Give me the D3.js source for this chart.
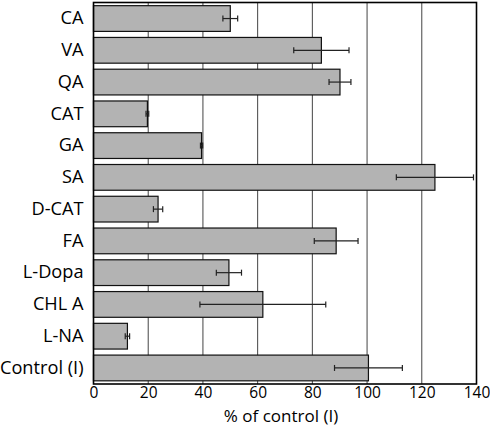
<!DOCTYPE html>
<html><head><meta charset="utf-8">
<script src="https://cdn.jsdelivr.net/npm/d3@7"></script>
<style>body{margin:0;background:#fff}svg{display:block}text{font-family:"Open Sans","Noto Sans",sans-serif;fill:#000}</style>
</head><body><svg id="c" width="490" height="426"></svg>
<script>
const categories = ["CA","VA","QA","CAT","GA","SA","D-CAT","FA","L-Dopa","CHL A","L-NA","Control (I)"];
const values = [50, 83.3, 90.1, 19.7, 39.5, 124.8, 23.6, 88.7, 49.5, 61.9, 12.4, 100.5];
const errors = [2.7, 10.1, 4.0, 0.5, 0.4, 14.1, 1.7, 8.0, 4.6, 23.0, 0.8, 12.4];
const xTicks = [0, 20, 40, 60, 80, 100, 120, 140];
const xTitle = "% of control (I)";

const svg = d3.select("#c");
const L = 93.5, R = 476.5, T = 2.5, B = 384;
const x = d3.scaleLinear().domain([0, 140]).range([L, R]);
const y = d3.scaleBand().domain(categories).range([T, B]).paddingInner(0.19).paddingOuter(0.1);

// gridlines
svg.append("g").selectAll("line").data(xTicks.slice(1, -1)).join("line")
  .attr("x1", d => x(d)).attr("x2", d => x(d)).attr("y1", T).attr("y2", B)
  .attr("stroke", "#444").attr("stroke-width", 1);

// bars
svg.append("g").selectAll("rect").data(categories).join("rect")
  .attr("x", x(0)).attr("y", d => y(d))
  .attr("width", (d, i) => x(values[i]) - x(0)).attr("height", y.bandwidth())
  .attr("fill", "#b3b3b3").attr("stroke", "#111").attr("stroke-width", 1.2);

// error bars
const eg = svg.append("g").attr("stroke", "#222").attr("stroke-width", 1.2);
categories.forEach((c, i) => {
  const cy = y(c) + y.bandwidth() / 2;
  const x1 = x(values[i] - errors[i]), x2 = x(values[i] + errors[i]);
  eg.append("line").attr("x1", x1).attr("x2", x2).attr("y1", cy).attr("y2", cy);
  eg.append("line").attr("x1", x1).attr("x2", x1).attr("y1", cy - 3).attr("y2", cy + 3);
  eg.append("line").attr("x1", x2).attr("x2", x2).attr("y1", cy - 3).attr("y2", cy + 3);
});

// frame
svg.append("rect").attr("x", L).attr("y", T).attr("width", R - L).attr("height", B - T)
  .attr("fill", "none").attr("stroke", "#000").attr("stroke-width", 1.6);

// x axis labels
const xa = svg.append("g").attr("transform", `translate(0,${B})`)
  .call(d3.axisBottom(x).tickValues(xTicks).tickSize(0).tickPadding(3).tickFormat(d3.format("d")));
xa.select(".domain").remove();
xa.selectAll("text").style("font-size", "15.5px").attr("fill", "#000");

// y axis labels
const ya = svg.append("g").attr("transform", `translate(${L},0)`)
  .call(d3.axisLeft(y).tickSize(0).tickPadding(10));
ya.select(".domain").remove();
ya.selectAll("text").style("font-size", "18.2px").attr("fill", "#000");

svg.append("text").attr("x", (L + R) / 2 - 4).attr("y", 422).attr("text-anchor", "middle")
  .style("font-size", "17px").text(xTitle);
</script></body></html>
